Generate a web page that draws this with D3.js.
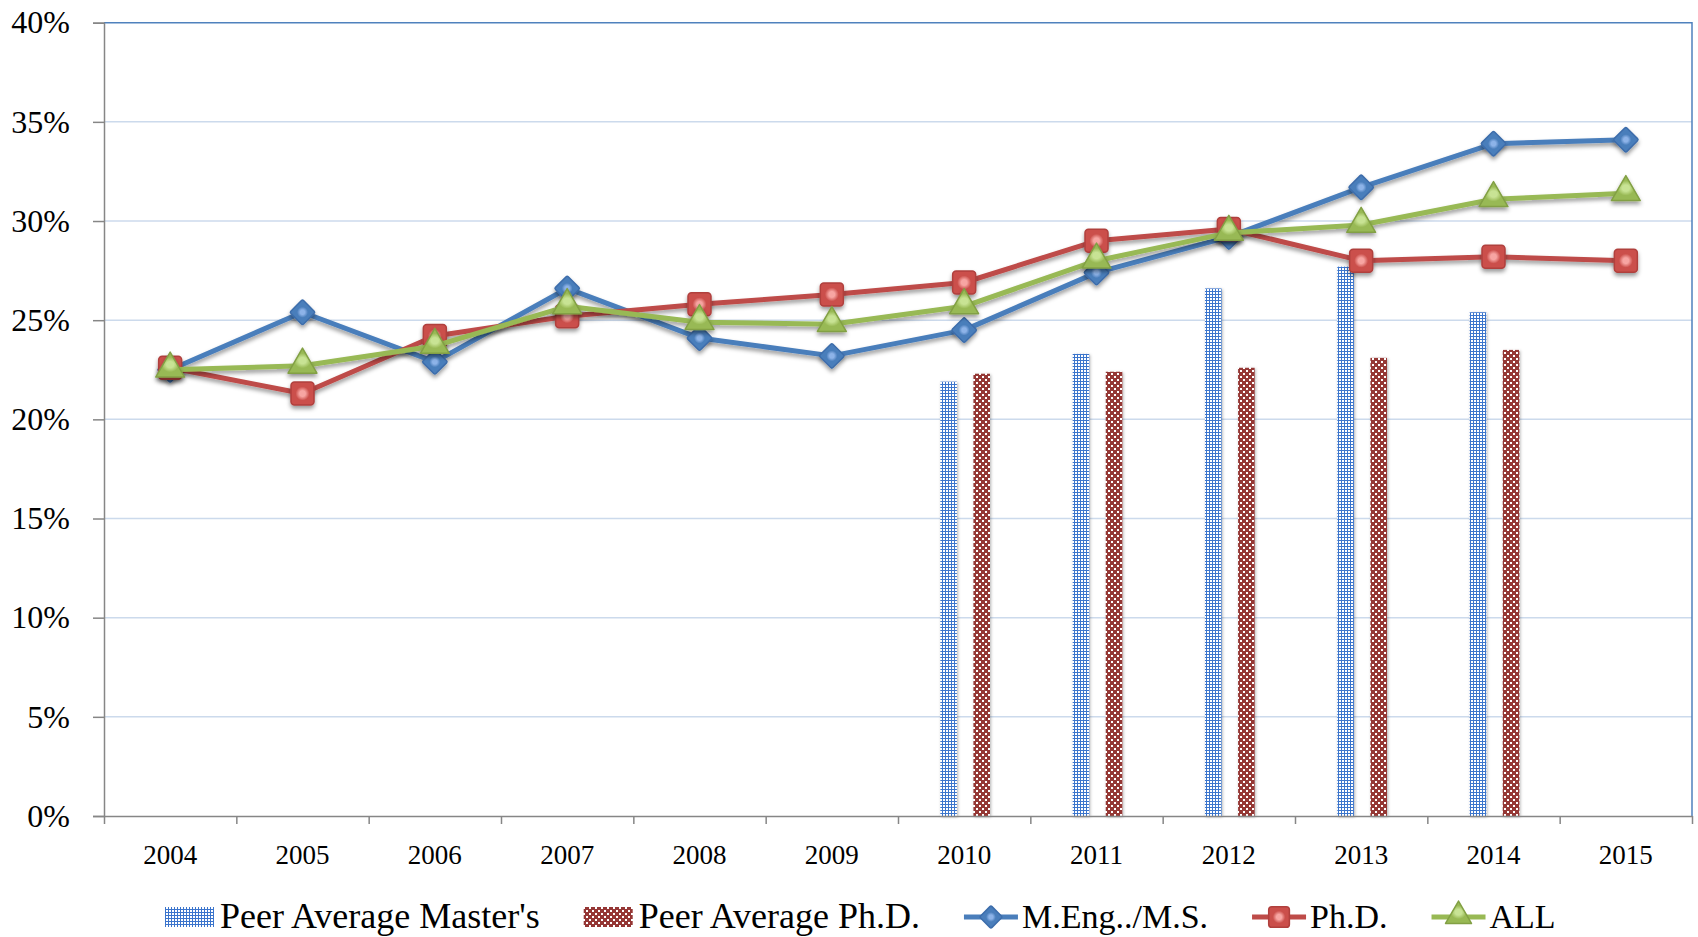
<!DOCTYPE html>
<html>
<head>
<meta charset="utf-8">
<script src="https://cdn.jsdelivr.net/npm/d3@7"></script>
<style>
  body { margin: 0; background: #fff; }
  text { font-family: "Liberation Serif", "Times New Roman", serif; fill: #000; }
</style>
</head>
<body>
<div id="chart"></div>
<script>
// --- data ---------------------------------------
var years = ["2004", "2005", "2006", "2007", "2008", "2009", "2010", "2011", "2012", "2013", "2014", "2015"]
var mEng = [22.5, 25.4, 22.9, 26.6, 24.1, 23.2, 24.5, 27.4, 29.2, 31.7, 33.9, 34.1]
var phd = [22.6, 21.3, 24.2, 25.2, 25.8, 26.3, 26.9, 29.0, 29.6, 28.0, 28.2, 28.0]
var all = [22.5, 22.7, 23.7, 25.7, 24.9, 24.8, 25.7, 28.0, 29.4, 29.8, 31.1, 31.4]
var peerMasters = [null, null, null, null, null, null, 21.9, 23.3, 26.6, 27.7, 25.4, null]
var peerPhd = [null, null, null, null, null, null, 22.3, 22.4, 22.6, 23.1, 23.5, null]
var yTicks = [0, 5, 10, 15, 20, 25, 30, 35, 40]

var width = 1698, height = 937
var margin = { left: 104, right: 6, top: 22.7, bottom: 121 }

var svg = d3.select("#chart").append("svg")
  .attr("width", width)
  .attr("height", height)

var x = d3.scaleBand().domain(years).range([margin.left, width - margin.right])
var xEdge = d3.scaleLinear().domain([0, years.length]).range([margin.left, width - margin.right])
var y = d3.scaleLinear().domain([0, 40]).range([height - margin.bottom, margin.top])

// --- defs: patterns, gradients, shadow ------------------
var defs = svg.append("defs")

var pBlue = defs.append("pattern").attr("id", "pBlue")
  .attr("patternUnits", "userSpaceOnUse").attr("width", 3).attr("height", 3)
pBlue.append("rect").attr("width", 3).attr("height", 3).attr("fill", "#3B74CC")
pBlue.append("rect").attr("x", 1).attr("y", 1).attr("width", 2).attr("height", 2).attr("fill", "#fff")

var pRed = defs.append("pattern").attr("id", "pRed")
  .attr("patternUnits", "userSpaceOnUse").attr("width", 6).attr("height", 6)
pRed.append("rect").attr("width", 6).attr("height", 6).attr("fill", "#953735")
pRed.append("rect").attr("x", 1).attr("y", 1).attr("width", 2).attr("height", 2).attr("fill", "#fff")
pRed.append("rect").attr("x", 4).attr("y", 4).attr("width", 2).attr("height", 2).attr("fill", "#fff")

var shadow = defs.append("filter").attr("id", "shadow")
  .attr("x", "-50%").attr("y", "-50%").attr("width", "200%").attr("height", "200%")
shadow.append("feDropShadow").attr("dx", 0).attr("dy", 3).attr("stdDeviation", 2.2)
  .attr("flood-color", "#000").attr("flood-opacity", 0.4)

var barShadow = defs.append("filter").attr("id", "barShadow")
  .attr("x", "-50%").attr("y", "-5%").attr("width", "200%").attr("height", "110%")
barShadow.append("feDropShadow").attr("dx", 1).attr("dy", 1).attr("stdDeviation", 1.5)
  .attr("flood-color", "#000").attr("flood-opacity", 0.3)

var series = [
  { key: "meng", label: "M.Eng../M.S.", values: mEng, line: "#4A7EBB", fill: "#4A7EBB", light: "#8DB3E8", stroke: "#3D6DAB", shape: "diamond" },
  { key: "phd", label: "Ph.D.", values: phd, line: "#BE4B48", fill: "#CB4F4B", light: "#F7A5A2", stroke: "#B0403D", shape: "square" },
  { key: "all", label: "ALL", values: all, line: "#98B954", fill: "#98B954", light: "#C8E394", stroke: "#82A044", shape: "triangle" }
]

series.forEach(s => {
  var g = defs.append("radialGradient").attr("id", "g-" + s.key)
  g.append("stop").attr("offset", "0%").attr("stop-color", s.light)
  g.append("stop").attr("offset", "25%").attr("stop-color", s.light)
  g.append("stop").attr("offset", "60%").attr("stop-color", s.fill)
  g.append("stop").attr("offset", "100%").attr("stop-color", s.fill)
})

// --- gridlines ---------------------------------------
svg.append("g").selectAll("line")
  .data(yTicks.filter(d => d > 0 && d < 40))
  .enter().append("line")
    .attr("x1", margin.left).attr("x2", width - margin.right)
    .attr("y1", d => y(d)).attr("y2", d => y(d))
    .attr("stroke", "#CCDAEC").attr("stroke-width", 1.5)

// frame top / right
svg.append("path")
  .attr("d", `M${margin.left},${y(40)}H${width - margin.right}V${y(0)}`)
  .attr("fill", "none").attr("stroke", "#4F81BD").attr("stroke-width", 1.5)

// --- bars ---------------------------------------
var bw = x.bandwidth() * 0.125
function barGroup(values, offset, fill) {
  svg.append("g").selectAll("rect")
    .data(years.map((yr, i) => ({ yr: yr, v: values[i] })).filter(d => d.v != null))
    .enter().append("rect")
      .attr("x", d => x(d.yr) + x.bandwidth() / 2 + offset * bw + 1)
      .attr("y", d => y(d.v))
      .attr("width", bw)
      .attr("height", d => y(0) - y(d.v))
      .attr("fill", fill)
      .attr("filter", "url(#barShadow)")
}
barGroup(peerMasters, -1.5, "url(#pBlue)")
barGroup(peerPhd, 0.5, "url(#pRed)")

// --- axes ---------------------------------------
var yAxis = svg.append("g")
  .attr("transform", `translate(${margin.left},0)`)
  .call(d3.axisLeft(y).tickValues(yTicks).tickFormat(d => d + "%").tickSize(11).tickPadding(23))
yAxis.attr("font-family", null)
yAxis.select(".domain").attr("stroke", "#868686").attr("stroke-width", 1.5)
yAxis.selectAll(".tick line").attr("stroke", "#868686").attr("stroke-width", 1.5)
yAxis.selectAll(".tick text")
  .style("font-family", "'Liberation Serif', serif")
  .style("font-size", "32px")
  .attr("fill", "#000")

var xAxis = svg.append("g")
  .attr("transform", `translate(0,${y(0)})`)
  .call(d3.axisBottom(xEdge).ticks(years.length).tickFormat("").tickSize(8).tickSizeOuter(0))
xAxis.select(".domain").attr("stroke", "#868686").attr("stroke-width", 1.5)
xAxis.selectAll(".tick line").attr("stroke", "#868686").attr("stroke-width", 1.5)

svg.append("g").selectAll("text")
  .data(years)
  .enter().append("text")
    .attr("x", d => x(d) + x.bandwidth() / 2)
    .attr("y", y(0) + 48)
    .attr("text-anchor", "middle")
    .attr("font-size", 27)
    .text(d => d)

// --- markers ---------------------------------------
function drawMarker(sel, s, scale) {
  scale = scale || 1
  if (s.shape === "diamond") {
    sel.append("rect")
      .attr("x", -9 * scale).attr("y", -9 * scale)
      .attr("width", 18 * scale).attr("height", 18 * scale)
      .attr("rx", 1.5)
      .attr("transform", "rotate(45)")
  } else if (s.shape === "square") {
    sel.append("rect")
      .attr("x", -11.5 * scale).attr("y", -11.5 * scale)
      .attr("width", 23 * scale).attr("height", 23 * scale)
      .attr("rx", 3.5 * scale)
  } else {
    sel.append("path")
      .attr("d", d3.symbol(d3.symbolTriangle, 360 * scale * scale)())
      .attr("stroke-linejoin", "round")
      .attr("transform", "translate(0,-1)")
  }
  sel.selectAll("rect, path")
    .attr("fill", `url(#g-${s.key})`)
    .attr("stroke", s.stroke)
    .attr("stroke-width", 1.5)
}

var line = d3.line()
  .x((d, i) => x(years[i]) + x.bandwidth() / 2)
  .y(d => y(d))

series.forEach(s => {
  var g = svg.append("g").attr("class", "series-" + s.key)
  g.append("path")
    .attr("d", line(s.values))
    .attr("fill", "none")
    .attr("stroke", s.line)
    .attr("stroke-width", 5)
    .attr("stroke-linejoin", "round")
    .attr("filter", "url(#shadow)")
  g.selectAll("g.m")
    .data(s.values)
    .enter().append("g")
      .attr("class", "m")
      .attr("transform", (d, i) => `translate(${x(years[i]) + x.bandwidth() / 2},${y(d)})`)
      .attr("filter", "url(#shadow)")
      .each(function() { drawMarker(d3.select(this), s) })
})

// --- legend ---------------------------------------
var legendItems = [
  { label: "Peer Average Master's", type: "bar", fill: "url(#pBlue)" },
  { label: "Peer Average Ph.D.", type: "bar", fill: "url(#pRed)" }
].concat(series.map(s => ({ label: s.label, type: "line", s: s })))

var legend = svg.append("g").attr("class", "legend")
var cx = 165, ly = 917
legendItems.forEach(item => {
  var g = legend.append("g")
  if (item.type === "bar") {
    g.append("rect")
      .attr("x", cx).attr("y", ly - 10)
      .attr("width", 49).attr("height", 20)
      .attr("fill", item.fill)
    cx += 55
  } else {
    g.append("line")
      .attr("x1", cx).attr("x2", cx + 54)
      .attr("y1", ly).attr("y2", ly)
      .attr("stroke", item.s.line).attr("stroke-width", 5)
    var m = g.append("g").attr("transform", `translate(${cx + 27},${ly})`)
    drawMarker(m, item.s, 0.9)
    cx += 58
  }
  var t = g.append("text")
    .attr("x", cx).attr("y", ly + 11)
    .attr("font-size", item.type === "bar" ? 36 : 34)
    .text(item.label)
  cx += t.node().getComputedTextLength() + 44
})
</script>
</body>
</html>
